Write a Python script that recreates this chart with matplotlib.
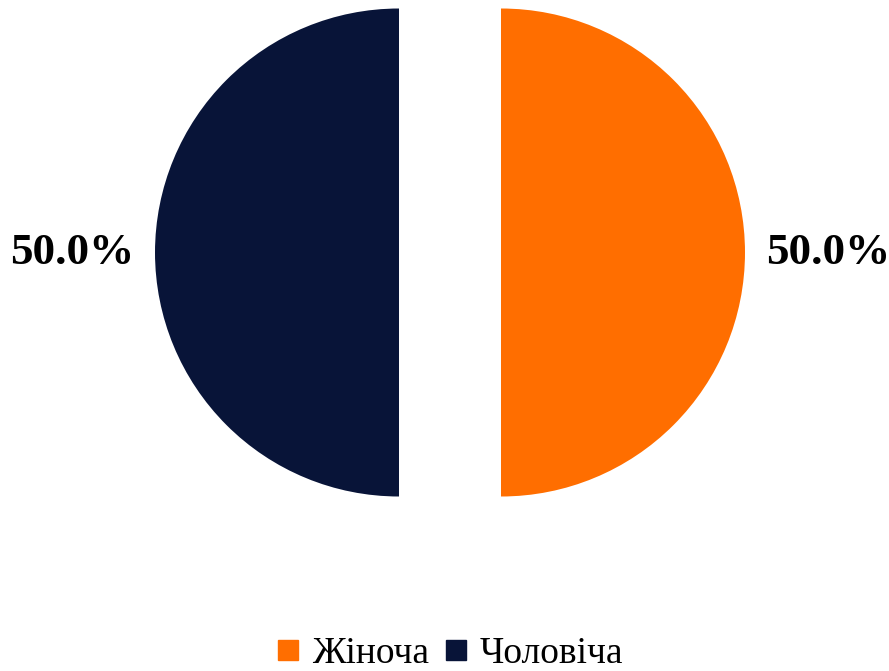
import matplotlib
matplotlib.use("Agg")
import matplotlib.pyplot as plt
from matplotlib.lines import Line2D

categories = ["Жіноча", "Чоловіча"]
values = [50.0, 50.0]
colors = ["#FF6E00", "#081438"]

plt.rcParams['font.family'] = ['Liberation Serif', 'DejaVu Serif']

W, H = 889, 671
fig = plt.figure(figsize=(W / 100, H / 100), dpi=100)
ax = fig.add_axes([0, 0, 1, 1])
ax.set_xlim(0, W)
ax.set_ylim(0, H)
ax.set_aspect('equal')
ax.axis('off')

R = 244
expl = 0.209 * R
wedges, texts, autotexts = ax.pie(
    values, colors=colors, startangle=-90, counterclock=True,
    radius=R, center=(450, H - 252.5), explode=[expl, expl],
    autopct='%1.1f%%', pctdistance=1.34,
    textprops=dict(fontsize=32.5, fontweight='bold', color='black'),
    wedgeprops=dict(linewidth=0),
)
ax.set_xlim(0, W)
ax.set_ylim(0, H)

handles = [Line2D([0], [0], marker='s', linestyle='none', markersize=14.5,
                  markerfacecolor=c, markeredgecolor=c) for c in colors]
fig.legend(handles, categories, loc='lower center', bbox_to_anchor=(0.507, -0.05),
           ncol=2, frameon=False, fontsize=27, handletextpad=0.38,
           columnspacing=0.43, handlelength=0.54)

fig.savefig("out.png", dpi=100)
